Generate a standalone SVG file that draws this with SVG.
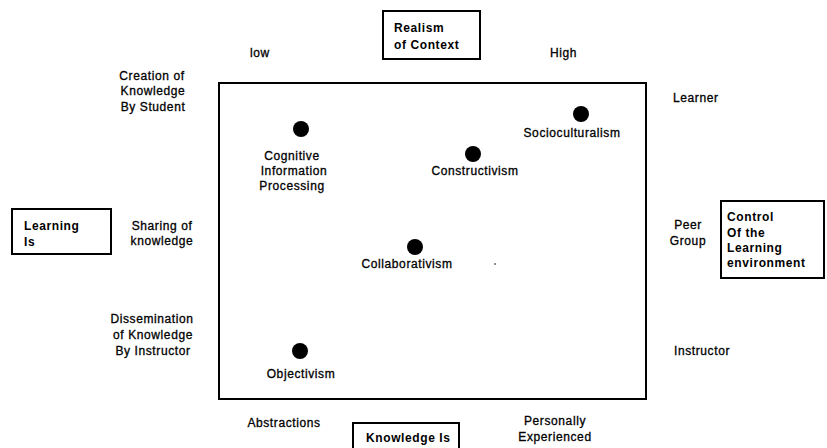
<svg xmlns="http://www.w3.org/2000/svg" width="827" height="448" viewBox="0 0 827 448">
<style>
text{font-family:"Liberation Sans",Arial,sans-serif;font-size:12px;letter-spacing:0.6px;fill:#000;stroke:#000;stroke-width:0.3px}
.b{font-weight:bold;stroke-width:0}
.m{text-anchor:middle}
.box{fill:#fff;stroke:#000;stroke-width:2}
.dot{fill:#000}
</style>
<rect width="827" height="448" fill="#fff"/>
<g id="frame">
<rect x="219" y="83" width="427" height="316" fill="none" stroke="#000" stroke-width="2"/>
</g>
<g id="realism">
<rect class="box" x="383" y="11" width="97" height="48"/>
<text class="b" x="394" y="32">Realism</text>
<text class="b" x="394" y="49">of Context</text>
</g>
<g id="learning-is">
<rect class="box" x="12" y="209" width="99" height="45"/>
<text class="b" x="24" y="230">Learning</text>
<text class="b" x="24" y="245.5">Is</text>
</g>
<g id="control">
<rect class="box" x="721" y="201" width="103" height="77"/>
<text class="b" x="727" y="221">Control</text>
<text class="b" x="727" y="236.5">Of the</text>
<text class="b" x="727" y="251.5">Learning</text>
<text class="b" x="727" y="267">environment</text>
</g>
<g id="knowledge-is">
<rect class="box" x="353" y="423" width="106" height="30"/>
<text class="b" x="366" y="442">Knowledge Is</text>
</g>
<g id="axis-labels">
<text x="250" y="57">low</text>
<text x="550" y="57">High</text>
<text class="m" x="152" y="80">Creation of</text>
<text class="m" x="153" y="95">Knowledge</text>
<text class="m" x="153" y="110.5">By Student</text>
<text class="m" x="162" y="230">Sharing of</text>
<text class="m" x="162" y="245">knowledge</text>
<text class="m" x="152" y="323">Dissemination</text>
<text class="m" x="153" y="339">of Knowledge</text>
<text class="m" x="153" y="355">By Instructor</text>
<text x="673" y="102">Learner</text>
<text class="m" x="688" y="229">Peer</text>
<text class="m" x="688" y="245">Group</text>
<text x="674" y="355">Instructor</text>
<text class="m" x="284" y="427">Abstractions</text>
<text class="m" x="555" y="425">Personally</text>
<text class="m" x="555" y="441">Experienced</text>
</g>
<g id="cognitive">
<circle class="dot" cx="301" cy="129" r="8"/>
<text class="m" x="292" y="159.5">Cognitive</text>
<text class="m" x="294" y="175">Information</text>
<text class="m" x="292" y="190">Processing</text>
</g>
<g id="socioculturalism">
<circle class="dot" cx="581" cy="114" r="8"/>
<text class="m" x="572" y="137">Socioculturalism</text>
</g>
<g id="constructivism">
<circle class="dot" cx="473" cy="154" r="8"/>
<text class="m" x="475" y="175">Constructivism</text>
</g>
<g id="collaborativism">
<circle class="dot" cx="415" cy="247" r="8"/>
<text class="m" x="407" y="268">Collaborativism</text>
</g>
<g id="objectivism">
<circle class="dot" cx="300" cy="351" r="8"/>
<text class="m" x="301" y="378">Objectivism</text>
</g>
<g id="connectors"></g>
<circle cx="495" cy="264" r="0.8" fill="#000"/>
</svg>
